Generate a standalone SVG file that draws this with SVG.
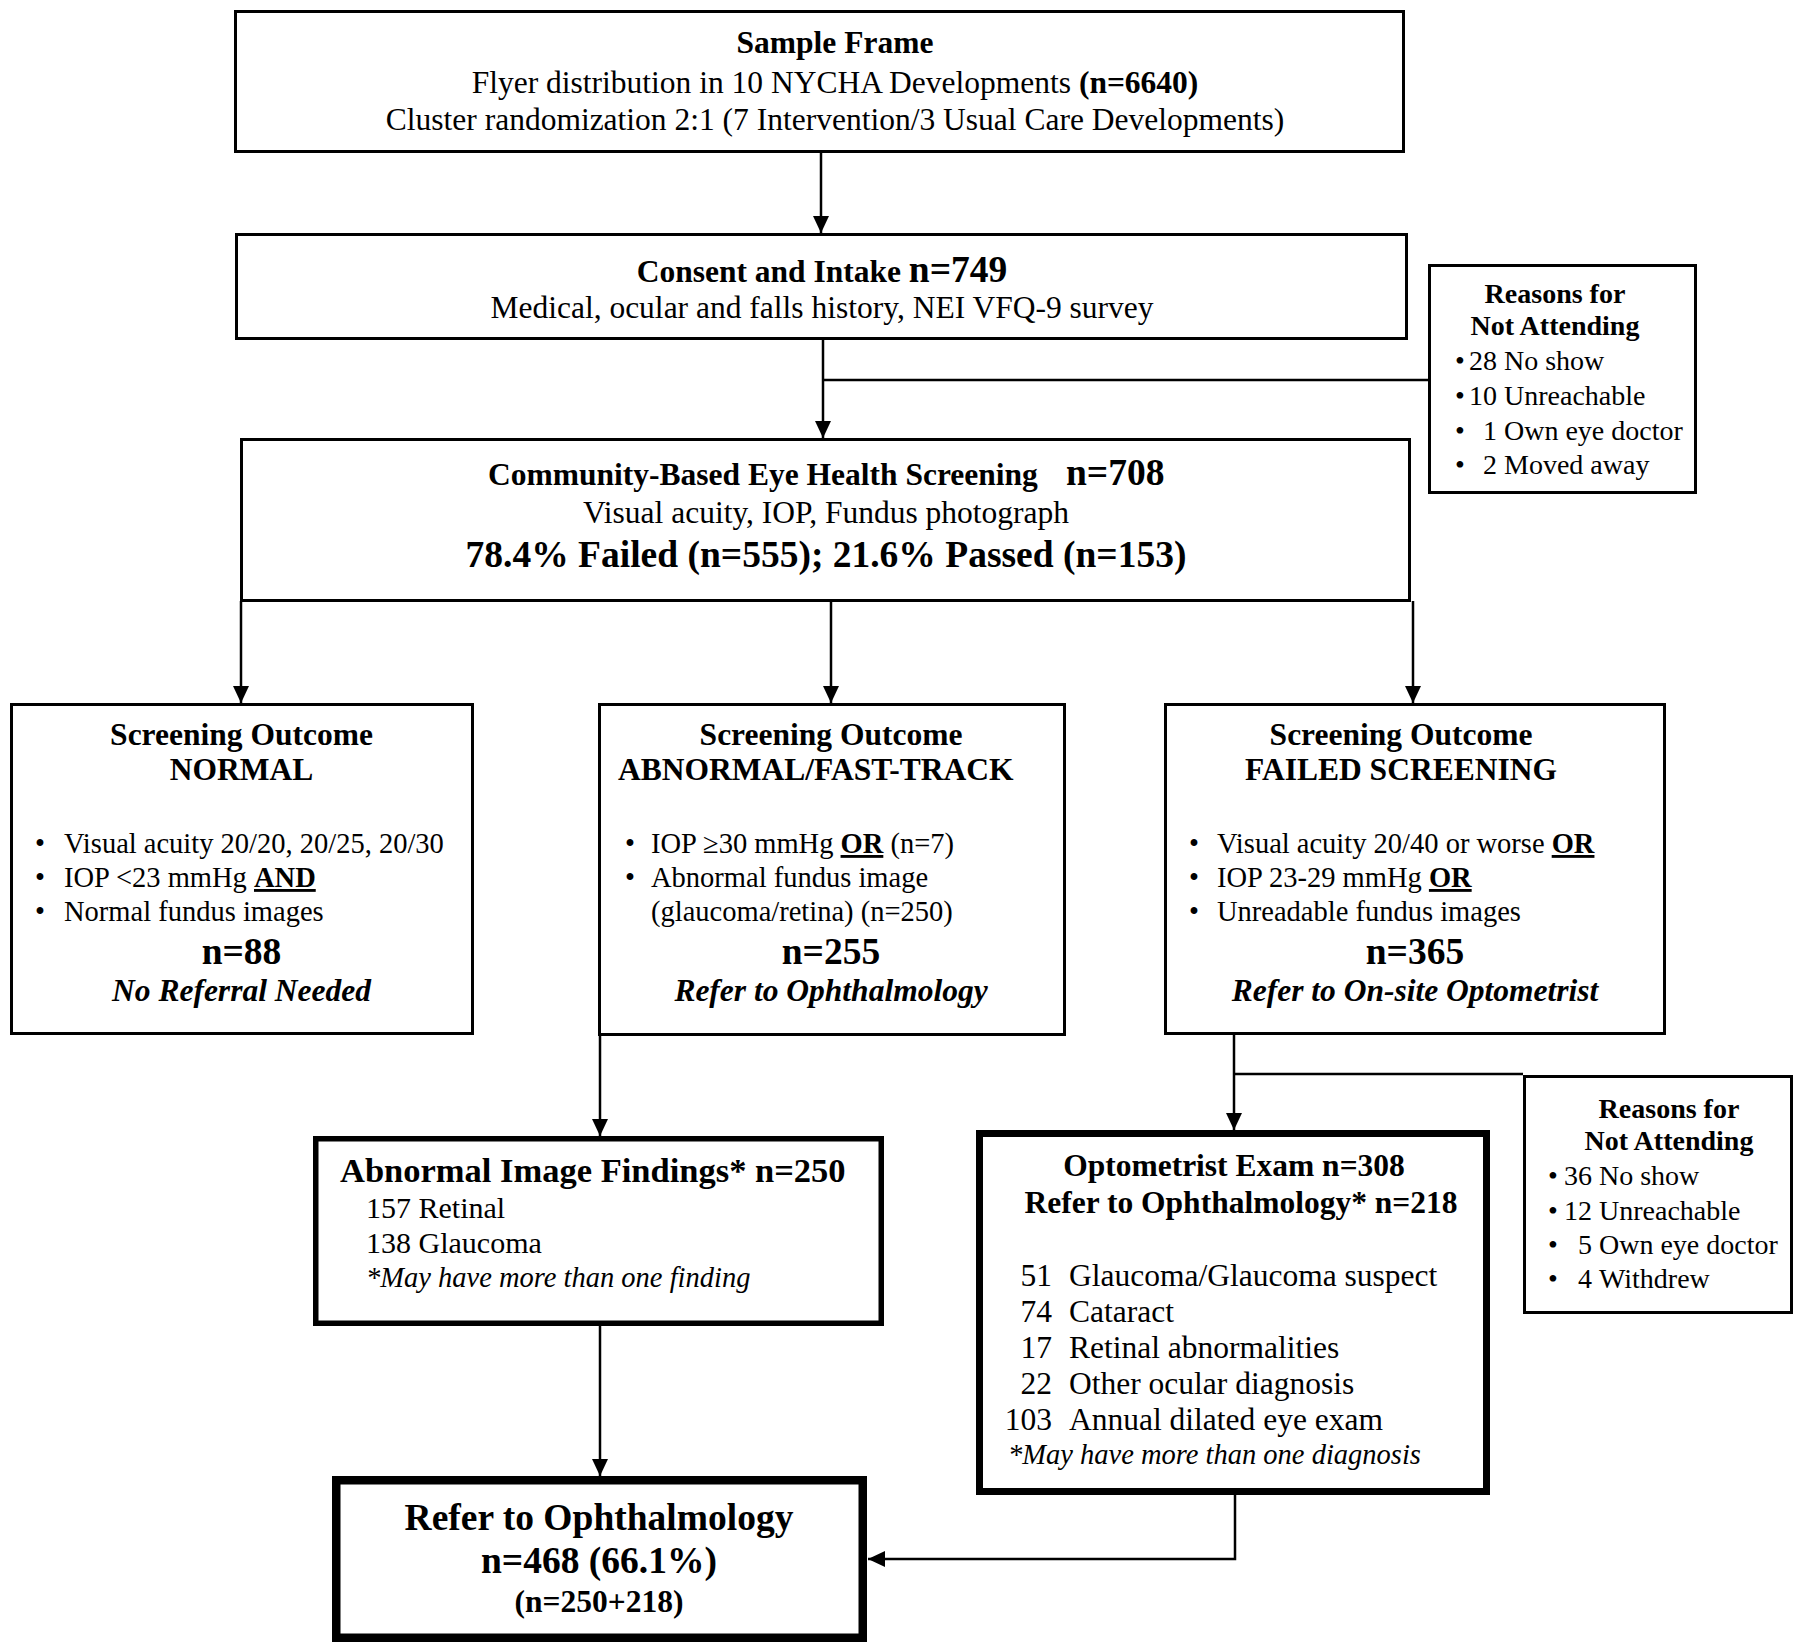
<svg xmlns="http://www.w3.org/2000/svg" width="1800" height="1652" viewBox="0 0 1800 1652">
<style>
.box{fill:#fff;stroke:#000;stroke-width:3}
text{font-family:'Liberation Serif','Times New Roman',serif;fill:#000}
.b{font-weight:bold}
.i{font-style:italic}
.c{text-anchor:middle}
.e{text-anchor:end}
.f31{font-size:31.5px}
.f37{font-size:37.5px}
.f28{font-size:28.5px}
.f30{font-size:30px}
.f34{font-size:34.5px}
.r{font-size:28px}
.u{text-decoration:underline}
.conn{fill:none;stroke:#000;stroke-width:2.5}
</style>
<defs>
<marker id="arr" markerUnits="userSpaceOnUse" markerWidth="17" markerHeight="16" refX="17" refY="8" orient="auto">
<path d="M0,0 L17,8 L0,16 Z" fill="#000"/>
</marker>
</defs>
<rect width="1800" height="1652" fill="#fff"/>

<g id="connectors">
<path class="conn" d="M821,152 V233" marker-end="url(#arr)"/>
<path class="conn" d="M823,340 V438" marker-end="url(#arr)"/>
<path class="conn" d="M823,380 H1428"/>
<path class="conn" d="M241,601 V703" marker-end="url(#arr)"/>
<path class="conn" d="M831,601 V703" marker-end="url(#arr)"/>
<path class="conn" d="M1413,601 V703" marker-end="url(#arr)"/>
<path class="conn" d="M600,1036 V1136" marker-end="url(#arr)"/>
<path class="conn" d="M1234,1035 V1130" marker-end="url(#arr)"/>
<path class="conn" d="M1234,1074 H1523"/>
<path class="conn" d="M600,1326 V1476" marker-end="url(#arr)"/>
<path class="conn" d="M1235,1495 V1559 H868" marker-end="url(#arr)"/>
</g>

<g id="sample-frame">
<rect class="box" x="235.5" y="11.5" width="1168" height="140"/>
<text class="b f31 c" x="835" y="53">Sample Frame</text>
<text class="f31 c" x="835" y="93">Flyer distribution in 10 NYCHA Developments <tspan class="b">(n=6640)</tspan></text>
<text class="f31 c" x="835" y="130">Cluster randomization 2:1 (7 Intervention/3 Usual Care Developments)</text>
</g>

<g id="consent">
<rect class="box" x="236.5" y="234.5" width="1170" height="104"/>
<text class="b f31 c" x="822" y="282">Consent and Intake <tspan class="f37">n=749</tspan></text>
<text class="f31 c" x="822" y="318">Medical, ocular and falls history, NEI VFQ-9 survey</text>
</g>

<g id="reasons-1">
<rect class="box" x="1429.5" y="265.5" width="266" height="227"/>
<text class="b r c" x="1555" y="303">Reasons for</text>
<text class="b r c" x="1555" y="335">Not Attending</text>
<text class="r" x="1455" y="370">•</text><text class="r e" x="1497" y="370">28</text><text class="r" x="1504" y="370">No show</text>
<text class="r" x="1455" y="405">•</text><text class="r e" x="1497" y="405">10</text><text class="r" x="1504" y="405">Unreachable</text>
<text class="r" x="1455" y="440">•</text><text class="r e" x="1497" y="440">1</text><text class="r" x="1504" y="440">Own eye doctor</text>
<text class="r" x="1455" y="474">•</text><text class="r e" x="1497" y="474">2</text><text class="r" x="1504" y="474">Moved away</text>
</g>

<g id="screening">
<rect class="box" x="241.5" y="439.5" width="1168" height="161"/>
<text class="b f31" x="488" y="485">Community-Based Eye Health Screening</text>
<text class="b f37" x="1066" y="485">n=708</text>
<text class="f31 c" x="826" y="523">Visual acuity, IOP, Fundus photograph</text>
<text class="b f37 c" x="826" y="567">78.4% Failed (n=555); 21.6% Passed (n=153)</text>
</g>

<g id="outcome-normal">
<rect class="box" x="11.5" y="704.5" width="461" height="329"/>
<text class="b f31 c" x="241.5" y="745">Screening Outcome</text>
<text class="b f31 c" x="241.5" y="780">NORMAL</text>
<text class="f28" x="35" y="853">•</text><text class="f28" x="64" y="853">Visual acuity 20/20, 20/25, 20/30</text>
<text class="f28" x="35" y="887">•</text><text class="f28" x="64" y="887">IOP &lt;23 mmHg <tspan class="b u">AND</tspan></text>
<text class="f28" x="35" y="921">•</text><text class="f28" x="64" y="921">Normal fundus images</text>
<text class="b f37 c" x="241.5" y="964">n=88</text>
<text class="b i f31 c" x="241.5" y="1001">No Referral Needed</text>
</g>

<g id="outcome-abnormal">
<rect class="box" x="599.5" y="704.5" width="465" height="330"/>
<text class="b f31 c" x="831" y="745">Screening Outcome</text>
<text class="b f31" x="618" y="780">ABNORMAL/FAST-TRACK</text>
<text class="f28" x="625" y="853">•</text><text class="f28" x="651" y="853">IOP ≥30 mmHg <tspan class="b u">OR</tspan> (n=7)</text>
<text class="f28" x="625" y="887">•</text><text class="f28" x="651" y="887">Abnormal fundus image</text>
<text class="f28" x="651" y="921">(glaucoma/retina) (n=250)</text>
<text class="b f37 c" x="831" y="964">n=255</text>
<text class="b i f31 c" x="831" y="1001">Refer to Ophthalmology</text>
</g>

<g id="outcome-failed">
<rect class="box" x="1165.5" y="704.5" width="499" height="329"/>
<text class="b f31 c" x="1401" y="745">Screening Outcome</text>
<text class="b f31 c" x="1401" y="780">FAILED SCREENING</text>
<text class="f28" x="1189" y="853">•</text><text class="f28" x="1217" y="853">Visual acuity 20/40 or worse <tspan class="b u">OR</tspan></text>
<text class="f28" x="1189" y="887">•</text><text class="f28" x="1217" y="887">IOP 23-29 mmHg <tspan class="b u">OR</tspan></text>
<text class="f28" x="1189" y="921">•</text><text class="f28" x="1217" y="921">Unreadable fundus images</text>
<text class="b f37 c" x="1415" y="964">n=365</text>
<text class="b i f31 c" x="1415" y="1001">Refer to On-site Optometrist</text>
</g>

<g id="abnormal-findings">
<rect class="box" style="stroke-width:5.5" x="315.75" y="1138.75" width="565.5" height="184.5"/>
<text class="b f34" x="340" y="1182">Abnormal Image Findings* n=250</text>
<text class="f30" x="366" y="1218">157 Retinal</text>
<text class="f30" x="366" y="1253">138 Glaucoma</text>
<text class="i f28" x="366" y="1287">*May have more than one finding</text>
</g>

<g id="optometrist">
<rect class="box" style="stroke-width:7" x="979.5" y="1133.5" width="507" height="358"/>
<text class="b f31 c" x="1234" y="1176">Optometrist Exam n=308</text>
<text class="b f31 c" x="1241" y="1213">Refer to Ophthalmology* n=218</text>
<text class="f31 e" x="1052" y="1286">51</text><text class="f31" x="1069" y="1286">Glaucoma/Glaucoma suspect</text>
<text class="f31 e" x="1052" y="1322">74</text><text class="f31" x="1069" y="1322">Cataract</text>
<text class="f31 e" x="1052" y="1358">17</text><text class="f31" x="1069" y="1358">Retinal abnormalities</text>
<text class="f31 e" x="1052" y="1394">22</text><text class="f31" x="1069" y="1394">Other ocular diagnosis</text>
<text class="f31 e" x="1052" y="1430">103</text><text class="f31" x="1069" y="1430">Annual dilated eye exam</text>
<text class="i f28" x="1008" y="1464">*May have more than one diagnosis</text>
</g>

<g id="reasons-2">
<rect class="box" x="1524.5" y="1076.5" width="267" height="236"/>
<text class="b r c" x="1669" y="1118">Reasons for</text>
<text class="b r c" x="1669" y="1150">Not Attending</text>
<text class="r" x="1548" y="1185">•</text><text class="r e" x="1592" y="1185">36</text><text class="r" x="1599" y="1185">No show</text>
<text class="r" x="1548" y="1220">•</text><text class="r e" x="1592" y="1220">12</text><text class="r" x="1599" y="1220">Unreachable</text>
<text class="r" x="1548" y="1254">•</text><text class="r e" x="1592" y="1254">5</text><text class="r" x="1599" y="1254">Own eye doctor</text>
<text class="r" x="1548" y="1288">•</text><text class="r e" x="1592" y="1288">4</text><text class="r" x="1599" y="1288">Withdrew</text>
</g>

<g id="refer-ophthalmology">
<rect class="box" style="stroke-width:8.5" x="336.25" y="1480.25" width="526.5" height="157.5"/>
<text class="b f37 c" x="599" y="1530">Refer to Ophthalmology</text>
<text class="b f37 c" x="599" y="1573">n=468 (66.1%)</text>
<text class="b f31 c" x="599" y="1612">(n=250+218)</text>
</g>
</svg>
